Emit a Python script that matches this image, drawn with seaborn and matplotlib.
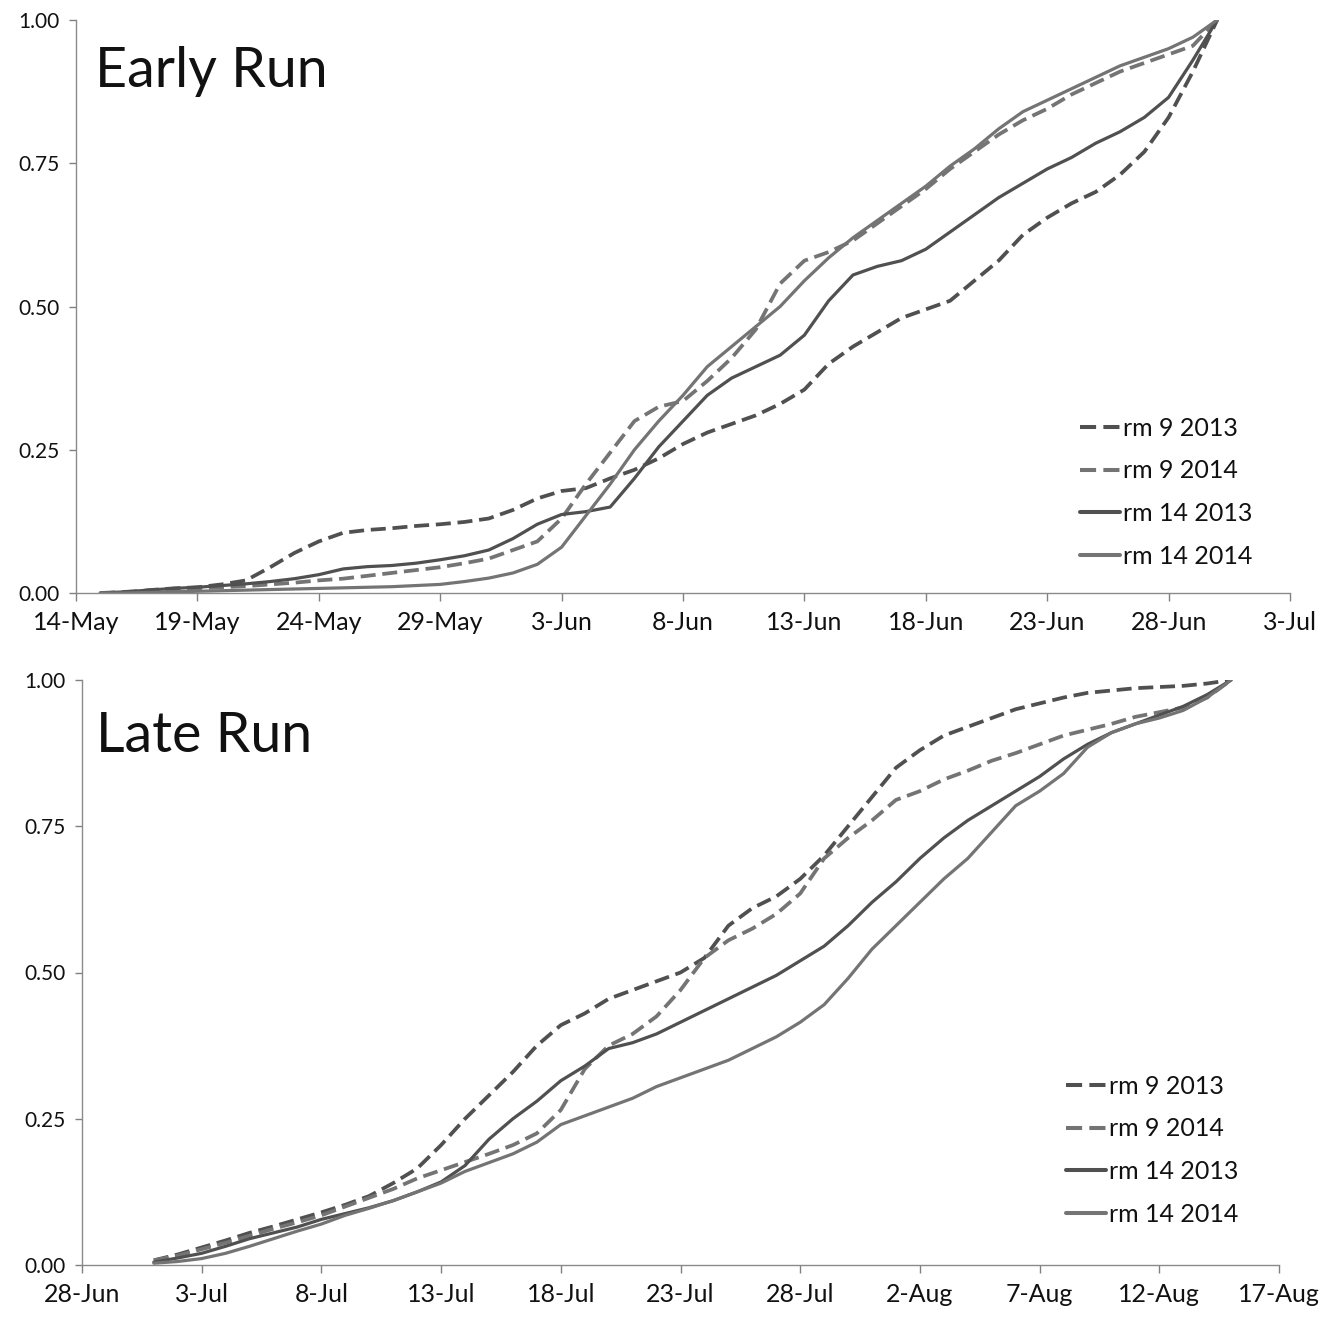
import seaborn as sns
import matplotlib.pyplot as plt
import matplotlib.dates as mdates
import pandas as pd

# ---- data: cumulative proportion of run ----
early_dates = pd.date_range("2014-05-15", "2014-06-30", freq="D")
early_rm9_2013 = [0.0, 0.0, 0.005, 0.008, 0.01, 0.015, 0.022, 0.045, 0.07, 0.09,
                  0.105, 0.11, 0.113, 0.117, 0.12, 0.124, 0.13, 0.145, 0.165, 0.178,
                  0.183, 0.2, 0.215, 0.235, 0.26, 0.28, 0.295, 0.31, 0.33, 0.355,
                  0.4, 0.43, 0.455, 0.48, 0.495, 0.51, 0.545, 0.58, 0.625, 0.655,
                  0.68, 0.7, 0.73, 0.77, 0.83, 0.91, 1.0]
early_rm9_2014 = [0.0, 0.002, 0.004, 0.006, 0.008, 0.01, 0.012, 0.015, 0.018, 0.022,
                  0.025, 0.03, 0.035, 0.04, 0.045, 0.052, 0.06, 0.075, 0.09, 0.13,
                  0.19, 0.245, 0.3, 0.325, 0.335, 0.37, 0.41, 0.46, 0.54, 0.58,
                  0.595, 0.615, 0.645, 0.675, 0.705, 0.74, 0.77, 0.8, 0.825, 0.845,
                  0.87, 0.89, 0.91, 0.925, 0.94, 0.955, 1.0]
early_rm14_2013 = [0.0, 0.002, 0.005, 0.008, 0.01, 0.013, 0.016, 0.02, 0.025, 0.032,
                   0.042, 0.046, 0.048, 0.052, 0.058, 0.065, 0.075, 0.095, 0.12, 0.137,
                   0.142, 0.15, 0.2, 0.255, 0.3, 0.345, 0.375, 0.395, 0.415, 0.45,
                   0.51, 0.555, 0.57, 0.58, 0.6, 0.63, 0.66, 0.69, 0.715, 0.74,
                   0.76, 0.785, 0.805, 0.83, 0.865, 0.93, 1.0]
early_rm14_2014 = [0.0, 0.0, 0.001, 0.002, 0.003, 0.004, 0.005, 0.006, 0.007, 0.008,
                   0.009, 0.01, 0.011, 0.013, 0.015, 0.02, 0.026, 0.035, 0.05, 0.08,
                   0.135, 0.19, 0.25, 0.3, 0.345, 0.395, 0.43, 0.465, 0.5, 0.545,
                   0.585, 0.62, 0.65, 0.68, 0.71, 0.745, 0.775, 0.81, 0.84, 0.86,
                   0.88, 0.9, 0.92, 0.935, 0.95, 0.97, 1.0]

late_dates = pd.date_range("2014-07-01", "2014-08-15", freq="D")
late_rm9_2013 = [0.008, 0.018, 0.03, 0.042, 0.055, 0.066, 0.078, 0.09, 0.103, 0.118,
                 0.14, 0.165, 0.205, 0.25, 0.29, 0.33, 0.375, 0.41, 0.43, 0.455,
                 0.47, 0.485, 0.5, 0.525, 0.58, 0.61, 0.63, 0.66, 0.7, 0.75,
                 0.8, 0.85, 0.88, 0.905, 0.92, 0.935, 0.95, 0.96, 0.97, 0.978,
                 0.982, 0.986, 0.988, 0.99, 0.994, 1.0]
late_rm9_2014 = [0.008, 0.016, 0.027, 0.038, 0.05, 0.062, 0.073, 0.085, 0.1, 0.115,
                 0.13, 0.148, 0.162, 0.176, 0.19, 0.205, 0.225, 0.265, 0.335, 0.375,
                 0.395, 0.425, 0.47, 0.525, 0.555, 0.575, 0.6, 0.635, 0.695, 0.73,
                 0.76, 0.795, 0.81, 0.83, 0.845, 0.862, 0.875, 0.89, 0.905, 0.915,
                 0.925, 0.937, 0.945, 0.953, 0.97, 1.0]
late_rm14_2013 = [0.005, 0.012, 0.02, 0.032, 0.045, 0.055, 0.065, 0.078, 0.088, 0.098,
                  0.11, 0.125, 0.142, 0.17, 0.215, 0.25, 0.28, 0.315, 0.34, 0.37,
                  0.38, 0.395, 0.415, 0.435, 0.455, 0.475, 0.495, 0.52, 0.545, 0.58,
                  0.62, 0.655, 0.695, 0.73, 0.76, 0.785, 0.81, 0.835, 0.865, 0.89,
                  0.91, 0.925, 0.94, 0.955, 0.975, 1.0]
late_rm14_2014 = [0.003, 0.006, 0.011, 0.02, 0.032, 0.045, 0.058, 0.07, 0.085, 0.097,
                  0.11, 0.125, 0.14, 0.16, 0.175, 0.19, 0.21, 0.24, 0.255, 0.27,
                  0.285, 0.305, 0.32, 0.335, 0.35, 0.37, 0.39, 0.415, 0.445, 0.49,
                  0.54, 0.58, 0.62, 0.66, 0.695, 0.74, 0.785, 0.81, 0.84, 0.885,
                  0.91, 0.925, 0.935, 0.948, 0.97, 1.0]

labels = ["rm 9 2013", "rm 9 2014", "rm 14 2013", "rm 14 2014"]
colors = ["#505050", "#747474", "#505050", "#747474"]
dashed = [True, True, False, False]

sns.set_theme(style="white")
plt.rcParams["font.family"] = ["Lato", "DejaVu Sans"]

fig = plt.figure(figsize=(13.26, 13.19), dpi=100)
W, H = 1326, 1319


def px_axes(left, top, right, bottom):
    return fig.add_axes([left / W, 1 - bottom / H, (right - left) / W, (bottom - top) / H])


def draw_panel(ax, dates, series, title, xstart, xend, legend_xy, title_xy):
    for vals, lab, col, d in zip(series, labels, colors, dashed):
        sns.lineplot(x=dates, y=vals, ax=ax, color=col, label=lab,
                     linewidth=2.7 if d else 2.3)
        if d:
            ax.lines[-1].set_dashes((4, 1.8))
    ax.set_xlim(pd.Timestamp(xstart), pd.Timestamp(xend))
    ax.set_ylim(0, 1)
    ax.set_xticks(pd.date_range(xstart, xend, freq="5D"))
    ax.xaxis.set_major_formatter(mdates.DateFormatter("%-d-%b"))
    ax.set_yticks([0, 0.25, 0.5, 0.75, 1.0])
    ax.set_yticklabels(["0.00", "0.25", "0.50", "0.75", "1.00"])
    ax.tick_params(axis="x", labelsize=18, direction="out", length=6, width=1,
                   color="#808080", pad=7, labelcolor="#111111")
    ax.tick_params(axis="y", labelsize=15, direction="out", length=5, width=1,
                   color="#808080", pad=7, labelcolor="#111111")
    ax.tick_params(bottom=True, left=True)
    sns.despine(ax=ax)
    for s in ["left", "bottom"]:
        ax.spines[s].set_color("#8a8a8a")
        ax.spines[s].set_linewidth(1)
    ax.set_xlabel("")
    ax.set_ylabel("")
    fig.text(title_xy[0] / W, 1 - title_xy[1] / H, title, fontsize=40,
             va="baseline", ha="left", color="#111111")
    leg = ax.legend(loc="upper left", bbox_to_anchor=(legend_xy[0] / W, 1 - legend_xy[1] / H),
                    bbox_transform=fig.transFigure, frameon=False, fontsize=18,
                    handlelength=1.6, handletextpad=0.12, labelspacing=0.78,
                    borderaxespad=0, borderpad=0)
    for h, t in zip(leg.get_lines(), leg.get_texts()):
        h.set_linewidth(2.9)
        t.set_color("#111111")


ax1 = px_axes(76, 20, 1290, 593)
draw_panel(ax1, early_dates,
           [early_rm9_2013, early_rm9_2014, early_rm14_2013, early_rm14_2014],
           "Early Run", "2014-05-14", "2014-07-03", (1080, 417), (95, 87))

ax2 = px_axes(82, 680, 1279, 1265)
draw_panel(ax2, late_dates,
           [late_rm9_2013, late_rm9_2014, late_rm14_2013, late_rm14_2014],
           "Late Run", "2014-06-28", "2014-08-17", (1066, 1075), (96, 752))

plt.savefig("out.png", dpi=100)
